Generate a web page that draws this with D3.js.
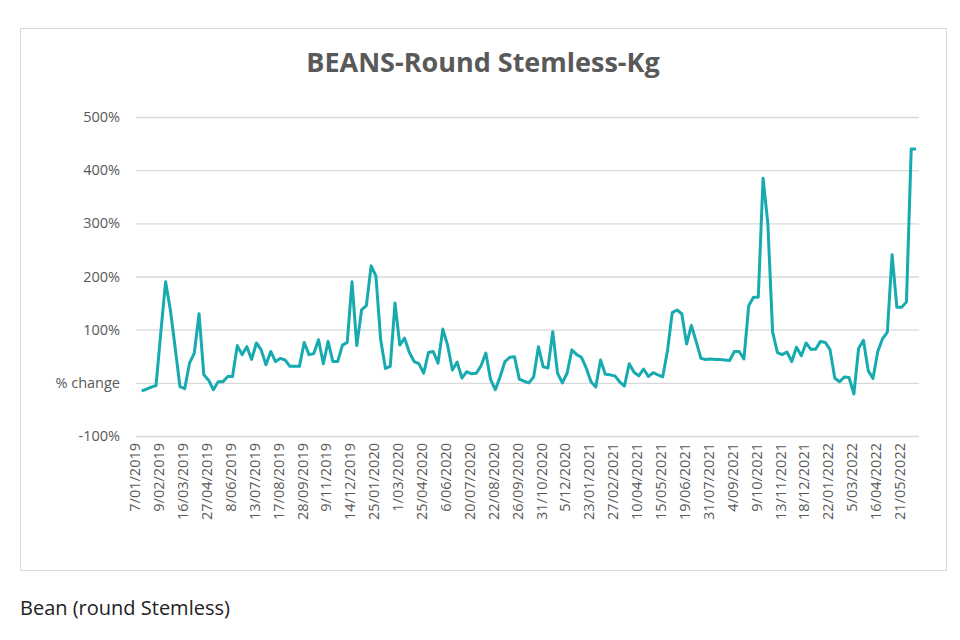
<!DOCTYPE html>
<html>
<head>
<meta charset="utf-8">
<script src="https://cdn.jsdelivr.net/npm/d3@7"></script>
<style>
  html, body { margin: 0; padding: 0; background: #ffffff; }
  svg { display: block; }
</style>
</head>
<body>
<svg id="chart" width="960" height="640"></svg>
<script>
// ---- data ----
const chartTitle = "BEANS-Round Stemless-Kg";
const caption = "Bean (round Stemless)";
// labelled categories (every 5th data point)
const tickLabels = [
  "7/01/2019","9/02/2019","16/03/2019","27/04/2019","8/06/2019","13/07/2019","17/08/2019",
  "28/09/2019","9/11/2019","14/12/2019","25/01/2020","1/03/2020","25/04/2020","6/06/2020",
  "20/07/2020","22/08/2020","26/09/2020","31/10/2020","5/12/2020","23/01/2021","27/02/2021",
  "10/04/2021","15/05/2021","19/06/2021","31/07/2021","4/09/2021","9/10/2021","13/11/2021",
  "18/12/2021","22/01/2022","5/03/2022","16/04/2022","21/05/2022"
];
const labelInterval = 5;
// % change values (percent)
const pctChange = [
  -15,-12,-8,-5,95,190,137,66,-7,-11,
  37,56,130,15,5,-13,2,2,12,12,
  70,53,68,44,75,62,34,59,40,46,
  43,31,31,31,76,53,55,81,36,78,
  40,40,71,76,190,70,137,145,220,201,
  81,27,31,150,71,84,57,40,36,18,
  57,59,37,101,71,24,39,9,21,17,
  18,32,56,6,-13,12,40,48,49,7,
  3,0,11,68,30,28,96,18,0,18,
  62,53,48,28,2,-8,43,16,15,13,
  2,-6,36,20,13,26,12,19,15,11,
  60,132,137,130,73,108,78,46,44,45,
  44,44,43,42,59,59,45,145,161,161,
  385,300,96,57,53,58,40,67,51,75,
  63,63,78,76,63,9,2,11,10,-21,
  65,80,23,8,59,83,95,241,142,142,
  152,440,440
];
const yTicks = [-100, 0, 100, 200, 300, 400, 500];

// ---- drawing ----
const svg = d3.select("#chart");
const grey = "#595959";
const gridColor = "#d9d9d9";
const lineColor = "#17abb0";

// outer chart frame
svg.append("rect")
  .attr("x", 20.5).attr("y", 28.5)
  .attr("width", 926).attr("height", 542)
  .attr("fill", "#fff").attr("stroke", "#d9d9d9").attr("stroke-width", 1);

// title
svg.append("text")
  .attr("x", 483).attr("y", 72)
  .attr("text-anchor", "middle")
  .attr("font-family", "Open Sans, sans-serif")
  .attr("font-weight", "bold")
  .attr("font-size", 27)
  .attr("fill", grey)
  .text(chartTitle);

const plotLeft = 136, plotRight = 919;
const y = d3.scaleLinear().domain([-100, 500]).range([436, 117]);
const idx = d3.range(pctChange.length);
const x = d3.scalePoint().domain(idx).range([141.7, 916]);

// gridlines + y labels
const yAxis = d3.axisLeft(y)
  .tickValues(yTicks)
  .tickSize(-(plotRight - plotLeft))
  .tickPadding(16)
  .tickFormat(d => d === 0 ? "% change" : d + "%");
const gy = svg.append("g")
  .attr("transform", `translate(${plotLeft},0)`)
  .call(yAxis);
gy.select(".domain").remove();
gy.selectAll(".tick line").attr("stroke", gridColor).attr("stroke-width", 1.3);
gy.selectAll(".tick text")
  .attr("fill", grey)
  .attr("font-family", "Open Sans, sans-serif")
  .attr("font-size", 14.5);

// x axis labels
const xAxis = d3.axisBottom(x)
  .tickValues(idx.filter(i => i % labelInterval === 0 && tickLabels[i / labelInterval] !== undefined))
  .tickSize(0)
  .tickPadding(7)
  .tickFormat(i => tickLabels[i / labelInterval]);
const gx = svg.append("g")
  .attr("transform", `translate(0,${y(-100)})`)
  .call(xAxis);
gx.select(".domain").remove();
gx.selectAll(".tick text")
  .attr("fill", grey)
  .attr("font-family", "Open Sans, sans-serif")
  .attr("font-size", 14.5)
  .attr("text-anchor", "end")
  .attr("dy", "0.35em")
  .attr("transform", "rotate(-90) translate(-7,-7)")
  .attr("x", 0).attr("y", 0);

// line
const line = d3.line()
  .x((d, i) => x(i))
  .y(d => y(d));
svg.append("path")
  .datum(pctChange)
  .attr("fill", "none")
  .attr("stroke", lineColor)
  .attr("stroke-width", 3)
  .attr("stroke-linejoin", "round")
  .attr("d", line);

// caption
svg.append("text")
  .attr("x", 20).attr("y", 615)
  .attr("font-family", "Open Sans, sans-serif")
  .attr("font-size", 20)
  .attr("fill", "#222")
  .text(caption);
</script>
</body>
</html>
